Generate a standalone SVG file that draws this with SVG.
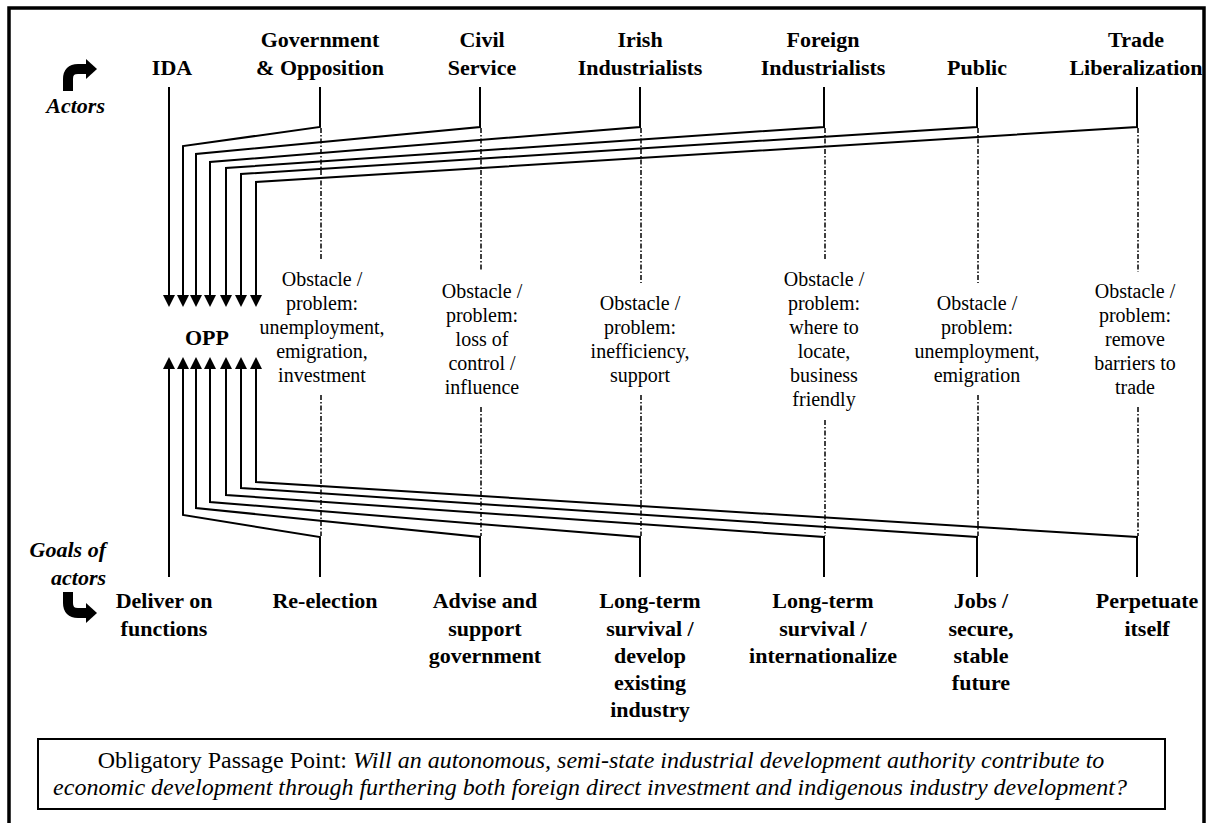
<svg xmlns="http://www.w3.org/2000/svg" width="1210" height="823" viewBox="0 0 1210 823">
<style>
text{font-family:"Liberation Serif","Times New Roman",serif;fill:#000}
.b{font-weight:bold;font-size:22px;text-anchor:middle}
.bi{font-weight:bold;font-style:italic;font-size:22px;text-anchor:end}
.o{font-size:20px;text-anchor:middle}
.bx{font-size:24px;text-anchor:middle}
.c{fill:none;stroke:#000;stroke-width:2}
.d{fill:none;stroke:#000;stroke-width:1.5;stroke-dasharray:5 2 1.5 2}
</style>
<defs>
<marker id="ah" markerUnits="userSpaceOnUse" markerWidth="12" markerHeight="12" refX="6" refY="6" orient="auto">
<path d="M0,0 L12,6 L0,12 z" fill="#000"/>
</marker>
</defs>
<rect x="9" y="8" width="1195" height="840" fill="#fff" stroke="#000" stroke-width="3.5"/>

<g id="legend-actors">
<path d="M68 91 V79 Q68 69 78 69 H87" fill="none" stroke="#000" stroke-width="10"/>
<polygon points="86,59 97,69 86,79" fill="#000"/>
<text class="bi" x="105" y="113">Actors</text>
</g>
<g id="legend-goals">
<path d="M68 592 V603 Q68 613 78 613 H87" fill="none" stroke="#000" stroke-width="10"/>
<polygon points="86,603 97,613 86,623" fill="#000"/>
<text class="bi" x="106" y="557">Goals of</text>
<text class="bi" x="106" y="585">actors</text>
</g>

<g id="connectors">
<path class="c" marker-end="url(#ah)" d="M169 87 V301"/>
<path class="c" marker-end="url(#ah)" d="M320 87 V127 L183 146 V301"/>
<path class="c" marker-end="url(#ah)" d="M480 87 V127 L196 154 V301"/>
<path class="c" marker-end="url(#ah)" d="M640 87 V127 L210 162 V301"/>
<path class="c" marker-end="url(#ah)" d="M824 87 V127 L226 168 V301"/>
<path class="c" marker-end="url(#ah)" d="M977 87 V127 L241 174 V301"/>
<path class="c" marker-end="url(#ah)" d="M1137 87 V127 L256 182 V301"/>

<path class="c" marker-end="url(#ah)" d="M169 577 V363"/>
<path class="c" marker-end="url(#ah)" d="M320 577 V537 L183 515 V363"/>
<path class="c" marker-end="url(#ah)" d="M480 577 V537 L196 508 V363"/>
<path class="c" marker-end="url(#ah)" d="M640 577 V537 L210 502 V363"/>
<path class="c" marker-end="url(#ah)" d="M824 577 V537 L226 495 V363"/>
<path class="c" marker-end="url(#ah)" d="M977 577 V537 L241 488 V363"/>
<path class="c" marker-end="url(#ah)" d="M1137 577 V537 L256 482 V363"/>

<path class="d" d="M321 128 V260 M321 395 V536"/>
<path class="d" d="M481 128 V270 M481 407 V536"/>
<path class="d" d="M641 128 V283 M641 395 V536"/>
<path class="d" d="M825 128 V260 M825 420 V536"/>
<path class="d" d="M978 128 V283 M978 395 V536"/>
<path class="d" d="M1138 128 V272 M1138 407 V536"/>
</g>

<g id="opp"><text class="b" x="207" y="345">OPP</text></g>

<g id="actor-ida"><text class="b" x="172" y="75">IDA</text></g>
<g id="actor-gov"><text class="b" x="320" y="47">Government</text><text class="b" x="320" y="75">&amp; Opposition</text></g>
<g id="actor-civil"><text class="b" x="482" y="47">Civil</text><text class="b" x="482" y="75">Service</text></g>
<g id="actor-irish"><text class="b" x="640" y="47">Irish</text><text class="b" x="640" y="75">Industrialists</text></g>
<g id="actor-foreign"><text class="b" x="823" y="47">Foreign</text><text class="b" x="823" y="75">Industrialists</text></g>
<g id="actor-public"><text class="b" x="977" y="75">Public</text></g>
<g id="actor-trade"><text class="b" x="1136" y="47">Trade</text><text class="b" x="1136" y="75">Liberalization</text></g>

<g id="obstacle-gov"><text class="o" x="322" y="286">Obstacle /</text><text class="o" x="322" y="310">problem:</text><text class="o" x="322" y="334">unemployment,</text><text class="o" x="322" y="358">emigration,</text><text class="o" x="322" y="382">investment</text></g>
<g id="obstacle-civil"><text class="o" x="482" y="298">Obstacle /</text><text class="o" x="482" y="322">problem:</text><text class="o" x="482" y="346">loss of</text><text class="o" x="482" y="370">control /</text><text class="o" x="482" y="394">influence</text></g>
<g id="obstacle-irish"><text class="o" x="640" y="310">Obstacle /</text><text class="o" x="640" y="334">problem:</text><text class="o" x="640" y="358">inefficiency,</text><text class="o" x="640" y="382">support</text></g>
<g id="obstacle-foreign"><text class="o" x="824" y="286">Obstacle /</text><text class="o" x="824" y="310">problem:</text><text class="o" x="824" y="334">where to</text><text class="o" x="824" y="358">locate,</text><text class="o" x="824" y="382">business</text><text class="o" x="824" y="406">friendly</text></g>
<g id="obstacle-public"><text class="o" x="977" y="310">Obstacle /</text><text class="o" x="977" y="334">problem:</text><text class="o" x="977" y="358">unemployment,</text><text class="o" x="977" y="382">emigration</text></g>
<g id="obstacle-trade"><text class="o" x="1135" y="298">Obstacle /</text><text class="o" x="1135" y="322">problem:</text><text class="o" x="1135" y="346">remove</text><text class="o" x="1135" y="370">barriers to</text><text class="o" x="1135" y="394">trade</text></g>

<g id="goal-ida"><text class="b" x="164" y="608">Deliver on</text><text class="b" x="164" y="636">functions</text></g>
<g id="goal-gov"><text class="b" x="325" y="608">Re-election</text></g>
<g id="goal-civil"><text class="b" x="485" y="608">Advise and</text><text class="b" x="485" y="636">support</text><text class="b" x="485" y="663">government</text></g>
<g id="goal-irish"><text class="b" x="650" y="608">Long-term</text><text class="b" x="650" y="636">survival /</text><text class="b" x="650" y="663">develop</text><text class="b" x="650" y="690">existing</text><text class="b" x="650" y="717">industry</text></g>
<g id="goal-foreign"><text class="b" x="823" y="608">Long-term</text><text class="b" x="823" y="636">survival /</text><text class="b" x="823" y="663">internationalize</text></g>
<g id="goal-public"><text class="b" x="981" y="608">Jobs /</text><text class="b" x="981" y="636">secure,</text><text class="b" x="981" y="663">stable</text><text class="b" x="981" y="690">future</text></g>
<g id="goal-trade"><text class="b" x="1147" y="608">Perpetuate</text><text class="b" x="1147" y="636">itself</text></g>

<g id="opp-box">
<rect x="38" y="739" width="1127" height="70" fill="#fff" stroke="#000" stroke-width="2"/>
<text class="bx" x="601" y="768">Obligatory Passage Point: <tspan font-style="italic">Will an autonomous, semi-state industrial development authority contribute to</tspan></text>
<text class="bx" x="590" y="795" font-style="italic">economic development through furthering both foreign direct investment and indigenous industry development?</text>
</g>
</svg>
